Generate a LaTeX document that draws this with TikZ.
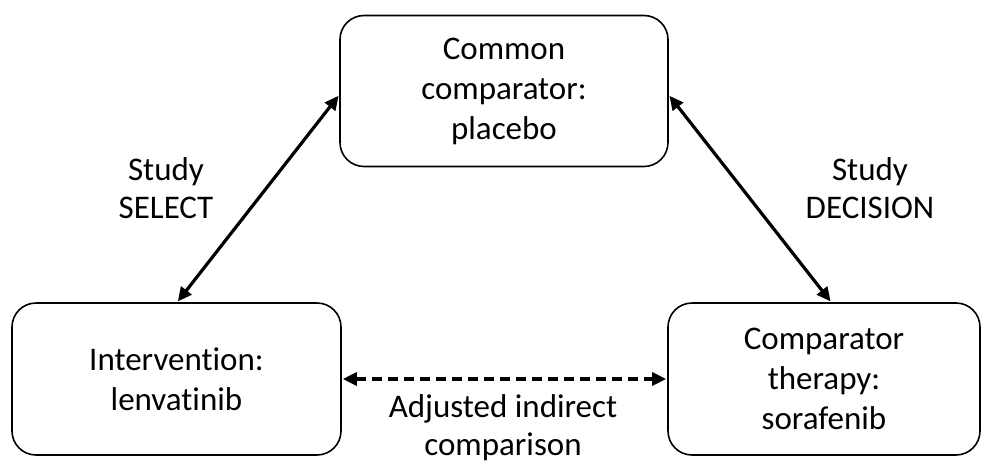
\documentclass[tikz,border=0pt]{standalone}
\usepackage{fontspec}
\setmainfont{Carlito}[Ligatures=NoCommon]
\usetikzlibrary{arrows.meta,calc}
\tikzset{
  boxnode/.style={draw=black, line width=1.6pt, rounded corners=24pt, align=center,
    inner sep=0pt, font=\fontsize{33}{40}\selectfont},
  lbl/.style={align=center, inner sep=0pt, font=\fontsize{33}{38}\selectfont},
  conn/.style={line width=3.2pt, {Triangle[length=14pt,width=13pt]}-{Triangle[length=14pt,width=13pt]}, shorten <=1pt, shorten >=1pt},
  dconn/.style={conn, dash pattern=on 10pt off 6pt}
}
\begin{document}
\begin{tikzpicture}[x=1pt,y=-1pt]
\useasboundingbox (0,0) rectangle (982,463);
\node[boxnode, minimum width=328pt, minimum height=151pt] (top) at (504,91) {Common\\comparator:\\placebo};
\node[boxnode, minimum width=329pt, minimum height=152pt] (left) at (176.5,379) {Intervention:\\lenvatinib};
\node[boxnode, minimum width=312pt, minimum height=152pt] (right) at (824,379) {Comparator\\therapy:\\sorafenib};
\node[lbl] (lsel) at (166,188) {Study\\SELECT};
\node[lbl] (ldec) at (870,188) {Study\\DECISION};
\node[lbl] (ladj) at (503,428) {Adjusted indirect\\comparison};
\coordinate (a1) at ($(left.north west)+(166,0)$);
\coordinate (a2) at ($(top.west)+(0,4)$);
\coordinate (b1) at ($(top.east)+(0,4)$);
\coordinate (b2) at ($(right.north west)+(164,0)$);
\draw[conn] (a1) -- (a2);
\draw[conn] (b1) -- (b2);
\draw[dconn] (left.east) -- (right.west);
\end{tikzpicture}
\end{document}
